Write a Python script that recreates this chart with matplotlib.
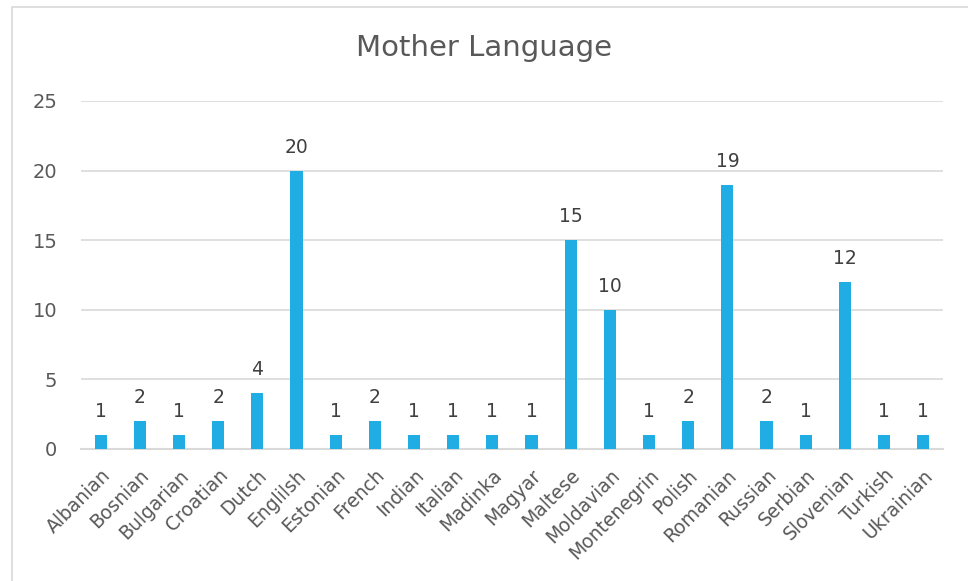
import matplotlib.pyplot as plt
from matplotlib.patches import Rectangle

# Data
bahasa = ["Albanian", "Bosnian", "Bulgarian", "Croatian", "Dutch", "Englilsh",
          "Estonian", "French", "Indian", "Italian", "Madinka", "Magyar",
          "Maltese", "Moldavian", "Montenegrin", "Polish", "Romanian",
          "Russian", "Serbian", "Slovenian", "Turkish", "Ukrainian"]
jumlah = [1, 2, 1, 2, 4, 20, 1, 2, 1, 1, 1, 1, 15, 10, 1, 2, 19, 2, 1, 12, 1, 1]
y_ticks = [0, 5, 10, 15, 20, 25]

warna_bar = "#1FADE4"
warna_teks = "#595959"
warna_grid = "#D9D9D9"

plt.rcParams['font.family'] = ['DejaVu Sans']

fig = plt.figure(figsize=(9.68, 5.81), dpi=100)
ax = fig.add_axes([0.0837, 0.2272, 0.8903, 0.599])

# border of chart area
fig.patches.append(Rectangle((12 / 968, -0.1), 1.0, 1 - 7 / 581 + 0.1,
                             transform=fig.transFigure, fill=False,
                             edgecolor=warna_grid, linewidth=1.2))

x = range(len(bahasa))
bars = ax.bar(x, jumlah, width=0.31, color=warna_bar, zorder=3)
for b, v in zip(bars, jumlah):
    ax.annotate(str(v), (b.get_x() + b.get_width() / 2, v),
                xytext=(0, 10), textcoords='offset points',
                ha='center', va='bottom', fontsize=13.5, color='#404040')

ax.set_xlim(-0.5, len(bahasa) - 0.5)
ax.set_ylim(0, 25)
ax.set_yticks(y_ticks)
ax.set_xticks(list(x))
ax.set_xticklabels(bahasa, rotation=45, ha='right', rotation_mode='anchor',
                   fontsize=13.5, color=warna_teks)
ax.tick_params(axis='y', labelsize=14, labelcolor=warna_teks, length=0, pad=17)
ax.tick_params(axis='x', length=0, pad=12)
ax.grid(axis='y', color=warna_grid, linewidth=1.2, zorder=0)
for s in ['top', 'right', 'left']:
    ax.spines[s].set_visible(False)
ax.spines['bottom'].set_color(warna_grid)
ax.spines['bottom'].set_linewidth(1.5)

fig.text(0.5, 0.917, "Mother Language", ha='center', va='center',
         fontsize=21, color=warna_teks)

plt.savefig('out.png', dpi=100)
